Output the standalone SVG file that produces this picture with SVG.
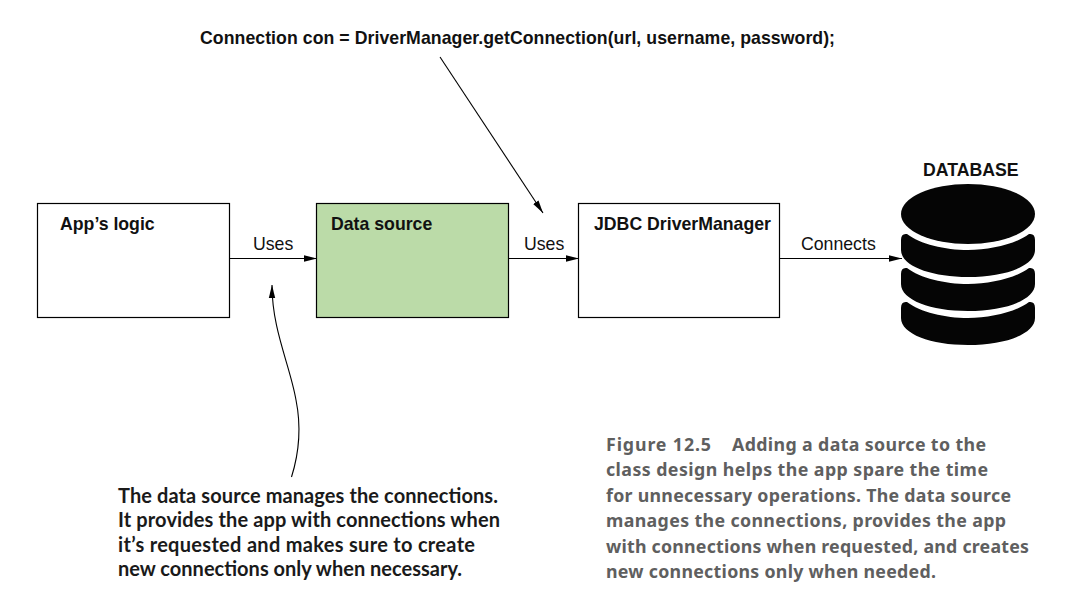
<svg xmlns="http://www.w3.org/2000/svg" width="1089" height="603" viewBox="0 0 1089 603">
<style>
.box{stroke:#000;stroke-width:1.2}
.lab{font-family:"Liberation Sans",Arial,sans-serif;font-size:17.7px;fill:#111}
.b{font-weight:bold}
.line{fill:none;stroke:#000;stroke-width:1.1}
.note{font-family:"Lato","Noto Sans",sans-serif;font-weight:bold;font-size:20px;fill:#1a1a1a}
.cap{font-family:"Noto Sans","DejaVu Sans",sans-serif;font-weight:bold;font-size:17.8px;fill:#5f5f5f}
</style>
<defs>
<marker id="ah" markerUnits="userSpaceOnUse" markerWidth="14" markerHeight="8" refX="13" refY="4" orient="auto"><path d="M0,0.800L13,4L0,7.200Z" fill="#000"/></marker>
</defs>
<rect width="1089" height="603" fill="#fff"/>
<text class="lab b" x="200" y="44" textLength="635">Connection con = DriverManager.getConnection(url, username, password);</text>
<g id="connectors">
<path class="line" marker-end="url(#ah)" d="M229,258.500H317"/>
<path class="line" marker-end="url(#ah)" d="M508,258.500H579"/>
<path class="line" marker-end="url(#ah)" d="M779,258.500H902"/>
<path class="line" marker-end="url(#ah)" d="M440,57L543,213"/>
<path class="line" marker-end="url(#ah)" d="M291.500,477C300,450 301,425 296,400C290,365 272,330 272,285"/>
<text class="lab" x="253" y="250">Uses</text>
<text class="lab" x="524" y="250">Uses</text>
<text class="lab" x="801" y="250">Connects</text>
</g>
<g id="app-logic"><rect class="box" x="37.500" y="203.500" width="192" height="114" fill="#fff"/><text class="lab b" x="60" y="230">App’s logic</text></g>
<g id="data-source"><rect class="box" x="316.500" y="203.500" width="192" height="114" fill="#bbdba8"/><text class="lab b" x="331" y="230">Data source</text></g>
<g id="driver-manager"><rect class="box" x="578.500" y="203.500" width="201" height="114" fill="#fff"/><text class="lab b" x="594" y="230">JDBC DriverManager</text></g>
<g id="database">
<text class="lab b" x="923" y="176">DATABASE</text>
<ellipse cx="968" cy="214" rx="67" ry="30" fill="#050505"/>
<path fill="#050505" d="M901,240Q901,233 907,234C920,244 945,250 968,250C991,250 1016,244 1029,234Q1035,233 1035,240V250C1035,266 1005,277 968,277C931,277 901,266 901,250Z"/>
<path fill="#050505" d="M901,274Q901,267 907,268C920,278 945,284 968,284C991,284 1016,278 1029,268Q1035,267 1035,274V284C1035,300 1005,311 968,311C931,311 901,300 901,284Z"/>
<path fill="#050505" d="M901,308Q901,301 907,302C920,312 945,318 968,318C991,318 1016,312 1029,302Q1035,301 1035,308V318C1035,334 1005,345 968,345C931,345 901,334 901,318Z"/>
</g>
<g id="note">
<text class="note" x="118" y="503" textLength="380">The data source manages the connections.</text>
<text class="note" x="118" y="527" textLength="382">It provides the app with connections when</text>
<text class="note" x="118" y="552" textLength="357">it’s requested and makes sure to create</text>
<text class="note" x="118" y="576" textLength="344">new connections only when necessary.</text>
</g>
<g id="caption">
<text class="cap" x="606" y="451" textLength="105">Figure 12.5</text>
<text class="cap" x="732" y="451" textLength="254">Adding a data source to the</text>
<text class="cap" x="606" y="476" textLength="382">class design helps the app spare the time</text>
<text class="cap" x="606" y="502" textLength="405">for unnecessary operations. The data source</text>
<text class="cap" x="606" y="527" textLength="400">manages the connections, provides the app</text>
<text class="cap" x="606" y="553" textLength="423">with connections when requested, and creates</text>
<text class="cap" x="606" y="578" textLength="330">new connections only when needed.</text>
</g>
</svg>
